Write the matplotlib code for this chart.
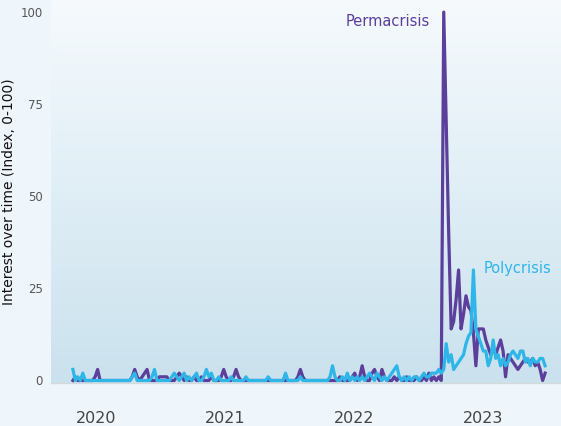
import numpy as np
import pandas as pd
import matplotlib
matplotlib.use("Agg")
import matplotlib.pyplot as plt
import matplotlib.dates as mdates
from matplotlib.colors import LinearSegmentedColormap

# Weekly Google-Trends style data (index 0-100)
weeks = pd.date_range("2019-10-27", periods=192, freq="7D")

permacrisis = [
    0, 1, 0, 0, 0, 0, 0, 0, 0, 1, 3, 0, 0, 0, 0, 0,
    0, 0, 0, 0, 0, 0, 0, 0, 1, 3, 1, 0, 1, 2, 3, 0,
    0, 0, 0, 1, 1, 1, 1, 0, 0, 0, 1, 2, 1, 0, 1, 0,
    0, 1, 0, 0, 1, 0, 0, 0, 1, 0, 0, 0, 1, 3, 1, 0,
    0, 1, 3, 1, 0, 0, 0, 0, 0, 0, 0, 0, 0, 0, 0, 0,
    0, 0, 0, 0, 0, 0, 0, 0, 0, 0, 0, 1, 3, 1, 0, 0,
    0, 0, 0, 0, 0, 0, 0, 0, 0, 0, 0, 0, 1, 0, 0, 0,
    0, 1, 2, 0, 1, 4, 1, 0, 0, 2, 3, 1, 0, 3, 1, 0,
    0, 0, 1, 0, 1, 0, 0, 1, 0, 0, 0, 1, 0, 0, 1, 0,
    2, 0, 1, 0, 1, 0, 100, 70, 40, 14, 16, 22, 30, 14, 18, 23,
    20, 19, 13, 4, 14, 14, 14, 11, 9, 7, 9, 7, 9, 11, 8, 1,
    7, 6, 5, 4, 3, 4, 5, 6, 5, 5, 6, 4, 5, 3, 0, 2,
]

polycrisis = [
    3, 0, 1, 0, 2, 0, 0, 0, 0, 0, 0, 0, 0, 0, 0, 0,
    0, 0, 0, 0, 0, 0, 0, 0, 1, 2, 0, 0, 0, 0, 0, 0,
    1, 3, 0, 0, 0, 0, 0, 0, 1, 2, 1, 0, 1, 2, 0, 1,
    0, 1, 2, 0, 0, 1, 3, 1, 2, 0, 0, 1, 0, 0, 0, 0,
    1, 0, 0, 0, 0, 0, 1, 0, 0, 0, 0, 0, 0, 0, 0, 1,
    0, 0, 0, 0, 0, 0, 2, 0, 0, 0, 0, 0, 1, 0, 0, 0,
    0, 0, 0, 0, 0, 0, 0, 0, 1, 4, 1, 0, 0, 1, 0, 2,
    0, 1, 0, 1, 0, 1, 0, 1, 2, 1, 0, 2, 1, 0, 1, 0,
    1, 2, 3, 4, 1, 0, 1, 0, 1, 0, 1, 1, 0, 1, 2, 1,
    1, 2, 2, 2, 3, 2, 3, 10, 5, 7, 3, 4, 5, 6, 7, 10,
    12, 13, 30, 14, 12, 10, 8, 8, 4, 6, 11, 6, 7, 4, 6, 4,
    5, 7, 8, 7, 6, 8, 8, 5, 6, 4, 6, 5, 5, 6, 6, 4,
]

purple = "#5b3f9b"
cyan = "#2fb6e8"

fig = plt.figure(figsize=(5.61, 4.26), dpi=100, facecolor="#eff6fb")
ax = fig.add_axes([51 / 561, 1 - 383 / 426, 1 - 51 / 561, 383 / 426])

# soft vertical gradient behind the lines
grad = LinearSegmentedColormap.from_list("bg", ["#cae2ee", "#f6fafd"])
ax.imshow(np.linspace(0, 1, 256).reshape(-1, 1), cmap=grad, origin="lower",
          extent=[0, 1, 0, 1], transform=ax.transAxes, aspect="auto", zorder=0)

ax.plot(weeks, permacrisis, color=purple, lw=2.3, zorder=2, solid_joinstyle="round")
ax.plot(weeks, polycrisis, color=cyan, lw=2.3, zorder=3, solid_joinstyle="round")

ax.set_xlim(pd.Timestamp("2019-08-26"), pd.Timestamp("2023-08-09"))
ax.set_ylim(-0.68, 103.3)

# labels next to each series' peak
i = int(np.argmax(permacrisis))
ax.annotate("Permacrisis", xy=(weeks[i], permacrisis[i]), xytext=(-10, -7),
            textcoords="offset points", ha="right", va="center",
            color=purple, fontsize=10.5)
j = int(np.argmax(polycrisis))
ax.annotate("Polycrisis", xy=(weeks[j], polycrisis[j]), xytext=(7, 1),
            textcoords="offset points", ha="left", va="center",
            color=cyan, fontsize=10.5)

ax.set_yticks([0, 25, 50, 75, 100])
ax.xaxis.set_major_locator(mdates.YearLocator())
ax.xaxis.set_major_formatter(mdates.DateFormatter("%Y"))
ax.tick_params(axis="y", length=0, labelsize=8.5, labelcolor="#555555", pad=6)
ax.tick_params(axis="x", length=0, labelsize=11.5, labelcolor="#444444", pad=20)

ax.set_ylabel("Interest over time (Index, 0-100)", fontsize=10, color="#111111")
ax.yaxis.set_label_coords(-35 / 510, 0.5)

for s in ["top", "right", "left"]:
    ax.spines[s].set_visible(False)
ax.spines["bottom"].set_color("#d5d9dc")
ax.spines["bottom"].set_linewidth(1)

fig.savefig("out.png", dpi=100, facecolor=fig.get_facecolor())
